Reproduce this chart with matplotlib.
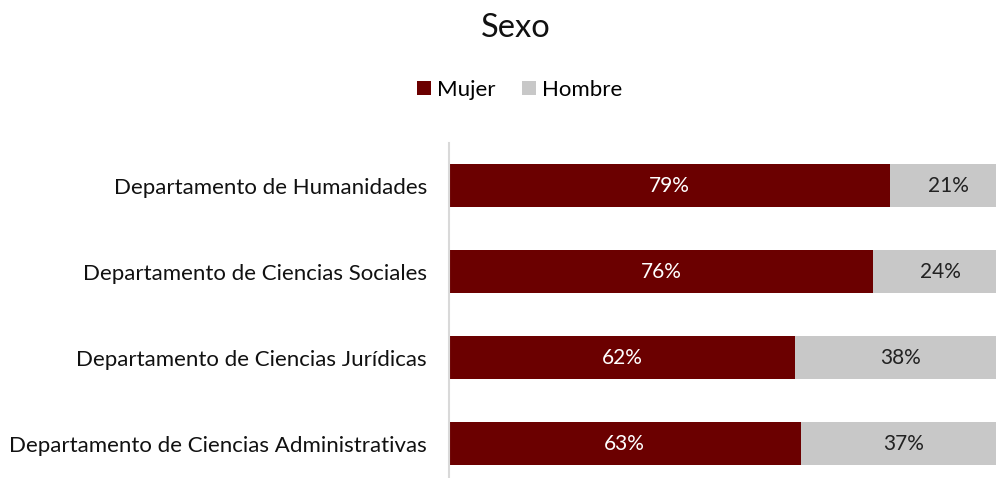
import matplotlib
matplotlib.use("Agg")
import matplotlib.pyplot as plt

categories = ["Departamento de Humanidades",
              "Departamento de Ciencias Sociales",
              "Departamento de Ciencias Jurídicas",
              "Departamento de Ciencias Administrativas"]
mujer = [79, 76, 62, 63]
hombre = [21, 24, 38, 37]
series_names = ["Mujer", "Hombre"]
colors = ["#6b0000", "#c8c8c8"]

plt.rcParams['font.family'] = ['Lato', 'DejaVu Sans']

fig = plt.figure(figsize=(9.96, 4.78), dpi=100)
ax = fig.add_axes([449/996, (478-486.5)/478, 558/996, (486.5-142.5)/478])

y = list(range(len(categories)))
b1 = ax.barh(y, mujer, height=0.5, color=colors[0], label=series_names[0])
b2 = ax.barh(y, hombre, left=mujer, height=0.5, color=colors[1], label=series_names[1])

for i in y:
    ax.text(mujer[i]/2, i, f"{mujer[i]}%", ha="center", va="center", color="white", fontsize=15)
    ax.text(mujer[i] + hombre[i]/2, i, f"{hombre[i]}%", ha="center", va="center", color="#222222", fontsize=15)

ax.set_xlim(0, 100)
ax.set_ylim(3.5, -0.5)
ax.set_yticks(y)
ax.set_yticklabels(categories, fontsize=16, color="#111111")
ax.tick_params(axis="y", length=0, pad=16)
ax.set_xticks([])
for s in ["top", "right", "bottom"]:
    ax.spines[s].set_visible(False)
ax.spines["left"].set_color("#d9d9d9")
ax.spines["left"].set_linewidth(1.5)

fig.text(516/996, 1 - 28/478, "Sexo", ha="center", va="center", fontsize=23.5, color="#111111")
fig.legend(handles=[b1, b2], labels=series_names, loc="center", bbox_to_anchor=(520/996, 1 - 90/478),
           ncol=2, frameon=False, fontsize=16, handlelength=0.6, handleheight=0.6,
           handletextpad=0.3, columnspacing=1.2)

fig.savefig("out.png", dpi=100)
